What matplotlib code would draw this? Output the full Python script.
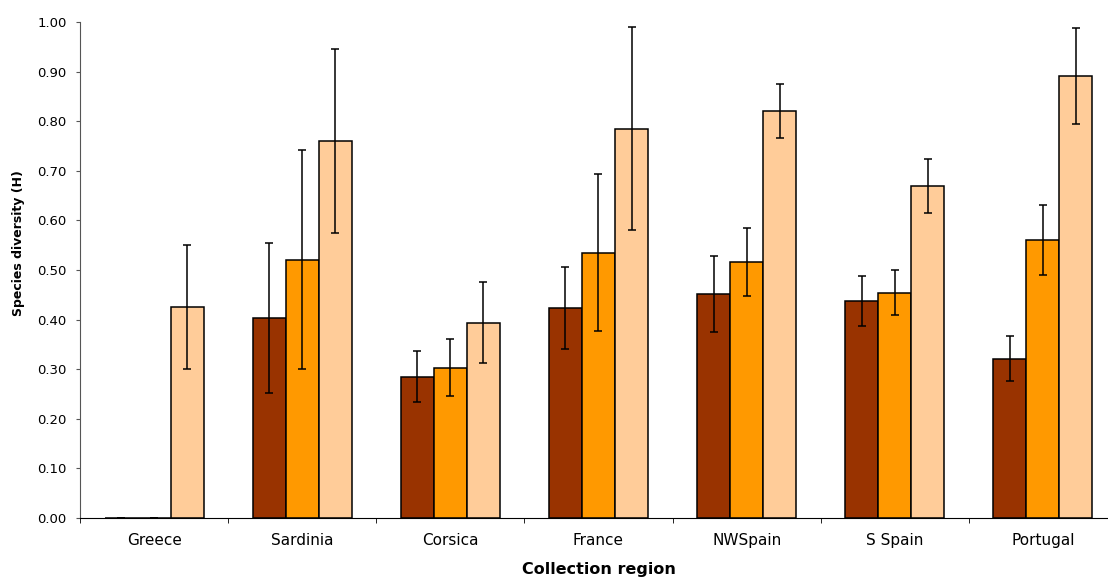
import matplotlib
matplotlib.use("Agg")
import matplotlib.pyplot as plt
import numpy as np

plt.rcParams['font.family'] = ['DejaVu Sans']

regions = ["Greece", "Sardinia", "Corsica", "France", "NWSpain", "S Spain", "Portugal"]
series_a = [0.0, 0.403, 0.285, 0.424, 0.451, 0.438, 0.321]
series_b = [0.0, 0.521, 0.303, 0.535, 0.516, 0.454, 0.560]
series_c = [0.425, 0.760, 0.394, 0.785, 0.821, 0.669, 0.891]
err_a = [0.0, 0.151, 0.052, 0.083, 0.077, 0.050, 0.045]
err_b = [0.0, 0.220, 0.058, 0.158, 0.068, 0.045, 0.071]
err_c = [0.125, 0.185, 0.082, 0.205, 0.054, 0.054, 0.096]

colors = ["#993300", "#FF9900", "#FFCC99"]

fig = plt.figure(figsize=(11.08, 5.79), dpi=100)
ax = fig.add_axes([80/1108, 1-518/579, (1117-80)/1108, (518-22)/579])

x = np.arange(len(regions))
w = 0.223
for i, (vals, errs) in enumerate([(series_a, err_a), (series_b, err_b), (series_c, err_c)]):
    pos = x + (i - 1) * w
    ax.bar(pos, vals, width=w, color=colors[i], edgecolor="black", linewidth=1.1, zorder=2)
    ax.errorbar(pos, vals, yerr=errs, fmt="none", ecolor="black", elinewidth=1.1,
                capsize=3, capthick=1.1, zorder=3)

ax.set_xlim(-0.5, len(regions) - 0.5)
ax.set_ylim(0, 1.0)
ax.set_yticks(np.arange(0, 1.01, 0.1))
ax.set_yticklabels([f"{v:.2f}" for v in np.arange(0, 1.01, 0.1)], fontsize=9.5)
ax.set_xticks(x)
ax.set_xticklabels(regions, fontsize=11)
ax.set_xticks(np.arange(-0.5, len(regions), 1.0), minor=True)
ax.tick_params(axis="x", which="major", length=0, pad=11)
ax.tick_params(axis="x", which="minor", length=3.5, direction="out", color="black")
ax.tick_params(axis="y", length=3, direction="out", pad=6.5, color="#555555")

for s in ["top", "right"]:
    ax.spines[s].set_visible(False)
ax.spines["left"].set_color("#555555")
ax.spines["bottom"].set_color("black")

ax.set_xlabel("Collection region", fontsize=11.5, fontweight="bold", labelpad=10)
ax.set_ylabel("Species diversity (H)", fontsize=9, fontweight="bold")
ax.yaxis.set_label_coords(-55/1037, (518-243)/496)

fig.savefig("out.png", dpi=100)
